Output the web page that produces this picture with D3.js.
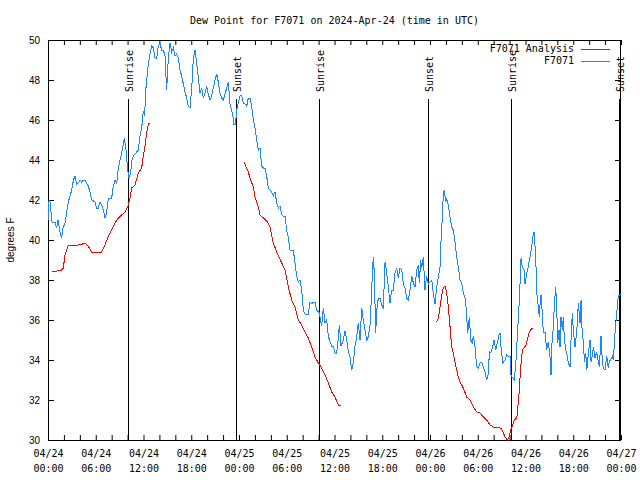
<!DOCTYPE html>
<html><head><meta charset="utf-8">
<script src="https://cdn.jsdelivr.net/npm/d3@7"></script>
<style>
body{margin:0;background:#fff;}
svg{display:block;}
.mono{font-family:"DejaVu Sans Mono",monospace;font-size:10px;}
.sans{font-family:"Liberation Sans",Arial,sans-serif;font-size:10px;}
</style></head>
<body><svg id="c" width="640" height="480"></svg>
<script>
const titleText = "Dew Point for F7071 on 2024-Apr-24 (time in UTC)";
const yLabel = "degrees F";
const seriesNames = ["F7071 Analysis", "F7071"];
const seriesColors = ["#ff0000", "#1a86ff"];
const yTicks = [30,32,34,36,38,40,42,44,46,48,50];

// observations: hours since 2024-04-24 00:00 UTC and dew point (F)
const obsHours = [0,0.13,0.25,0.5,0.88,1.09,1.26,1.51,1.72,1.88,2.14,2.55,2.98,3.2,3.39,3.58,3.81,4.02,4.23,4.46,4.65,5.06,5.28,5.49,5.91,6.09,6.32,6.53,6.75,6.95,7.16,7.35,7.58,8.0,8.21,8.42,8.63,8.83,9.05,9.26,9.42,9.59,9.8,10.02,10.18,10.37,10.56,10.72,10.93,11.35,11.56,11.77,11.98,12.13,12.31,12.6,12.82,13.03,13.23,13.45,13.66,13.86,14.07,14.29,14.49,14.7,14.91,15.12,15.33,15.54,15.75,15.96,16.17,16.37,16.59,16.8,17.0,17.22,17.43,17.63,17.84,18.06,18.26,18.47,18.69,18.89,19.1,19.31,19.52,19.73,19.94,20.14,20.36,20.57,20.77,20.99,21.2,21.4,21.61,21.83,22.03,22.24,22.46,22.66,22.87,23.06,23.21,23.37,23.56,23.71,23.91,24.13,24.34,24.54,24.75,24.97,25.17,25.38,25.59,25.8,26.01,26.23,26.43,26.64,26.85,27.06,27.27,27.48,27.68,27.9,28.11,28.31,28.52,28.74,28.94,29.15,29.37,29.57,29.78,29.99,30.2,30.41,30.62,30.82,31.04,31.25,31.45,31.67,31.88,32.08,32.29,32.71,32.92,33.14,33.34,33.55,33.76,34.09,34.24,34.39,34.59,34.81,35.02,35.22,35.44,35.65,35.85,36.06,36.28,36.48,36.61,36.82,37.11,37.32,37.53,37.74,37.95,38.16,38.36,38.58,38.79,38.99,39.21,39.42,39.62,39.83,40.05,40.25,40.46,40.59,40.8,40.88,41.0,41.18,41.3,41.51,41.72,41.93,42.13,42.35,42.56,42.76,42.98,43.19,43.39,43.6,43.82,44.02,44.23,44.45,44.65,44.86,45.07,45.28,45.49,45.7,45.91,46.12,46.33,46.53,46.66,46.83,46.96,47.16,47.37,47.58,47.79,48.0,48.22,48.42,48.63,48.85,49.05,49.26,49.39,49.55,49.67,49.8,49.98,50.1,50.3,50.52,50.73,50.93,51.14,51.36,51.56,51.77,51.99,52.19,52.4,52.53,52.74,52.94,53.12,53.32,53.45,53.66,53.87,54.07,54.29,54.5,54.7,54.91,55.13,55.33,55.46,55.63,55.88,56.04,56.25,56.46,56.67,56.8,56.92,57.14,57.43,57.64,57.84,58.06,58.18,58.4,58.6,58.81,59.02,59.23,59.44,59.6,59.82,59.94,60.15,60.36,60.57,60.78,60.91,61.07,61.2,61.32,61.41,61.61,61.74,61.83,61.95,62.11,62.24,62.45,62.66,62.87,63.08,63.21,63.33,63.5,63.62,63.8,63.92,64.05,64.21,64.34,64.46,64.63,64.75,64.88,65.05,65.18,65.38,65.6,65.72,65.88,66.01,66.22,66.43,66.64,66.85,66.98,67.14,67.27,67.4,67.57,67.7,67.9,68.11,68.24,68.4,68.53,68.74,68.95,69.15,69.28,69.49,69.65,69.78,69.99,70.21,70.41,70.54,70.71,70.91,71.04,71.25,71.46,71.67,71.88,72.0];
const obsValues = [41.0,42.0,41.9,40.9,40.9,40.6,41.0,40.4,40.1,40.6,40.85,41.9,42.5,43.0,43.2,42.8,42.85,43.0,42.9,43.0,43.0,42.7,42.4,42.0,41.9,41.6,41.6,41.9,41.75,41.5,41.1,41.3,42.1,42.1,42.7,43.0,42.8,43.6,44.0,44.35,44.7,45.1,44.5,43.5,43.1,43.3,44.0,44.2,44.3,44.5,45.2,45.6,46.45,46.2,47.6,48.8,49.3,49.7,49.6,49.1,49.1,49.7,49.8,49.5,49.5,49.2,47.5,49.1,49.85,49.4,49.6,49.2,49.3,49.1,48.5,48.2,47.8,47.4,47.1,46.7,46.6,47.6,49.1,49.5,48.8,48.1,47.35,47.6,47.1,47.35,47.7,47.3,47.0,47.2,47.6,48.0,48.3,47.9,47.35,47.1,47.0,47.3,47.6,47.9,46.8,46.5,46.3,45.75,45.8,46.5,46.85,47.2,47.25,46.85,46.8,46.7,47.1,47.1,46.7,46.0,45.6,45.0,44.5,44.6,43.7,43.6,43.6,43.2,42.6,42.5,42.4,42.2,42.4,41.85,41.6,41.7,41.25,41.2,41.2,40.5,40.1,39.5,39.5,39.5,38.85,38.2,37.9,38.0,37.5,36.5,36.3,36.3,36.9,36.8,36.9,36.9,36.5,36.35,36.0,35.7,36.6,35.85,36.0,35.2,34.9,34.7,34.7,34.35,34.35,35.1,35.75,34.7,35.0,35.45,35.05,34.4,34.15,33.5,33.85,34.7,35.15,35.85,35.0,36.6,36.0,35.5,35.0,35.15,35.75,36.75,38.65,39.15,38.35,35.35,36.5,37.1,37.1,36.75,36.6,38.9,38.35,37.65,36.85,37.5,37.5,38.35,38.6,38.1,38.6,38.5,37.8,37.6,37.1,37.0,37.5,38.2,37.85,37.65,38.5,38.75,37.85,39.0,38.6,39.15,37.5,38.2,37.8,37.9,38.0,37.3,36.8,37.7,38.15,38.65,40.0,41.15,42.3,42.5,41.9,42.05,41.75,41.15,40.65,40.5,39.9,39.15,38.65,38.0,37.85,37.35,37.1,36.65,35.35,36.15,35.0,34.85,35.2,34.65,33.65,33.6,33.85,33.9,33.65,33.4,33.0,33.3,34.4,34.35,34.65,35.0,34.5,34.85,35.25,35.35,34.65,33.85,34.0,34.25,34.2,34.2,33.25,33.1,33.0,34.0,35.5,37.0,39.1,38.65,38.5,37.8,38.3,38.7,39.15,39.65,40.15,40.4,39.65,38.65,37.4,36.65,36.15,36.8,37.25,36.35,35.35,35.4,34.5,34.9,34.15,33.25,34.85,35.65,36.75,37.65,36.65,34.85,35.5,34.65,36.15,35.5,36.15,35.1,34.5,34.35,33.85,33.65,35.0,36.35,35.5,34.65,35.35,36.85,35.85,37.0,35.15,35.0,33.9,34.35,33.5,34.35,35.0,33.9,34.25,34.65,34.1,34.4,33.9,33.65,35.2,34.0,33.6,33.5,34.2,33.6,34.0,34.0,34.2,34.0,35.35,36.35,37.25,37.25,37.3];

// analysis: hours and values; null marks a gap between runs
const anaHours = [0.5,1.09,1.72,1.92,2.14,2.55,3.81,4.65,5.06,5.49,6.32,6.75,7.16,7.58,8.0,8.42,8.83,9.26,9.68,10.02,10.3,10.52,10.93,11.35,11.77,11.98,12.19,12.4,12.63,12.82,
  18,
  24.63,25.17,25.38,25.8,26.01,26.43,26.64,27.06,27.68,27.9,28.31,28.74,29.37,29.78,30.2,30.62,31.04,31.45,31.88,32.29,32.71,33.14,33.55,33.97,34.39,34.81,35.22,35.65,36.06,36.48,36.78,
  42,
  48.85,49.05,49.26,49.47,49.67,49.89,50.1,50.3,50.52,50.73,50.93,51.14,51.36,51.56,51.77,52.19,52.61,53.03,53.45,53.87,54.29,54.7,55.13,55.54,55.96,56.8,57.01,57.43,57.72,57.97,58.15,58.4,58.6,58.91,59.04,59.21,59.33,59.46,59.62,59.82,60.07,60.23,60.45,60.63,60.88];
const anaValues = [38.4,38.45,38.5,38.6,39.25,39.75,39.75,39.83,39.7,39.37,39.4,39.4,39.75,40.17,40.5,40.85,41.1,41.25,41.4,41.65,42.1,42.6,42.75,43.35,43.6,44.2,44.7,45.35,45.85,45.85,
  null,
  43.9,43.4,43.1,42.65,42.15,41.65,41.25,41.1,40.85,40.65,39.85,39.4,38.85,38.5,37.65,37.0,36.65,36.0,35.75,35.4,35.1,34.65,34.15,33.85,33.6,33.25,32.85,32.4,32.15,31.75,31.75,
  null,
  35.9,36.1,36.65,37.25,37.6,37.7,37.35,36.65,35.65,34.65,34.35,33.9,33.5,33.15,32.9,32.6,32.15,32.0,31.65,31.4,31.35,31.15,31.0,30.75,30.65,30.6,30.55,30.15,30.0,30.2,30.5,30.75,31.0,31.1,31.65,32.4,33.25,33.9,34.5,34.6,34.75,35.0,35.35,35.5,35.6];

const eventNames = ["Sunrise","Sunset","Sunrise","Sunset","Sunrise","Sunset"];
const eventHours = [10.05,23.62,34.05,47.75,58.18,71.75];

const t0 = Date.UTC(2024,3,24);
const hr = h => new Date(t0 + h*3600e3);

const svg = d3.select("#c");
const L=48, R=621, T=40, B=440;
const x = d3.scaleUtc().domain([hr(0),hr(72)]).range([L,R]);
const y = d3.scaleLinear().domain([30,50]).range([B,T]);

// title
svg.append("text").attr("class","mono").attr("x",(L+R)/2).attr("y",23.5)
  .attr("text-anchor","middle").text(titleText);
// y label
svg.append("text").attr("class","sans").attr("transform","translate(14,240) rotate(-90)")
  .attr("text-anchor","middle").text(yLabel);

const xTickVals = d3.range(0,73,2).map(hr);
const fmtD = d3.utcFormat("%m/%d"), fmtT = d3.utcFormat("%H:%M");

const gx = svg.append("g").attr("transform",`translate(0,${B})`)
  .call(d3.axisBottom(x).tickValues(xTickVals).tickSize(-5).tickFormat(""));
gx.select(".domain").remove();
gx.selectAll(".tick").each(function(d){
  const h = (d - t0)/3600e3;
  if (h % 6 === 0) {
    const t = d3.select(this).select("text").attr("class","mono").attr("y",null).attr("dy",null)
      .attr("fill","#000");
    t.append("tspan").attr("x",0).attr("y",17).text(fmtD(d));
    t.append("tspan").attr("x",0).attr("y",32).text(fmtT(d));
  }
});
gx.attr("font-family",null).attr("font-size",null);
const gxt = svg.append("g").attr("transform",`translate(0,${T})`)
  .call(d3.axisTop(x).tickValues(xTickVals).tickSize(-5).tickFormat(""));
gxt.select(".domain").remove();

const gy = svg.append("g").attr("transform",`translate(${L},0)`)
  .call(d3.axisLeft(y).tickValues(yTicks).tickSize(-6).tickPadding(8).tickFormat(d3.format("d")));
gy.select(".domain").remove();
gy.attr("font-family",null).attr("font-size",null);
gy.selectAll("text").attr("class","sans");
const gyr = svg.append("g").attr("transform",`translate(${R},0)`)
  .call(d3.axisRight(y).tickValues(yTicks).tickSize(-6).tickFormat(""));
gyr.select(".domain").remove();
svg.selectAll(".tick line").attr("stroke","#000");

// frame
svg.append("rect").attr("x",L+0.5).attr("y",T+0.5).attr("width",R-L-1).attr("height",B-T)
  .attr("fill","none").attr("stroke","#000");

// events
const ev = svg.append("g");
eventNames.forEach((n,i)=>{
  const ex = Math.round(x(hr(eventHours[i])))+0.5;
  ev.append("line").attr("x1",ex).attr("x2",ex).attr("y1",99).attr("y2",B)
    .attr("stroke","#000").attr("stroke-width",1);
  ev.append("text").attr("class","mono").attr("transform",`translate(${ex+1.5},92) rotate(-90)`)
    .attr("dominant-baseline","middle").attr("text-anchor","start").text(n);
});

// data lines
const obs = obsHours.map((h,i)=>({t:hr(h),v:obsValues[i]}));
const ana = anaHours.map((h,i)=>({t:hr(h),v:anaValues[i]}));
const line = d3.line().defined(d=>d.v!=null).x(d=>x(d.t)).y(d=>y(d.v));
svg.append("path").datum(ana).attr("d",line).style("fill","none").style("stroke",seriesColors[0])
  .style("stroke-width","1px").attr("shape-rendering","crispEdges");
svg.append("path").datum(obs).attr("d",line).style("fill","none").style("stroke",seriesColors[1])
  .style("stroke-width","1px").attr("shape-rendering","crispEdges");

// legend
const lg = svg.append("g");
seriesNames.forEach((n,i)=>{
  const ly = 49 + i*12;
  lg.append("text").attr("class","mono").attr("x",574).attr("y",ly).attr("dominant-baseline","middle")
    .attr("text-anchor","end").text(n);
  lg.append("rect").attr("x",581).attr("y",ly).attr("width",29).attr("height",1)
    .style("fill",seriesColors[i]).style("stroke","none");
});
</script></body></html>
